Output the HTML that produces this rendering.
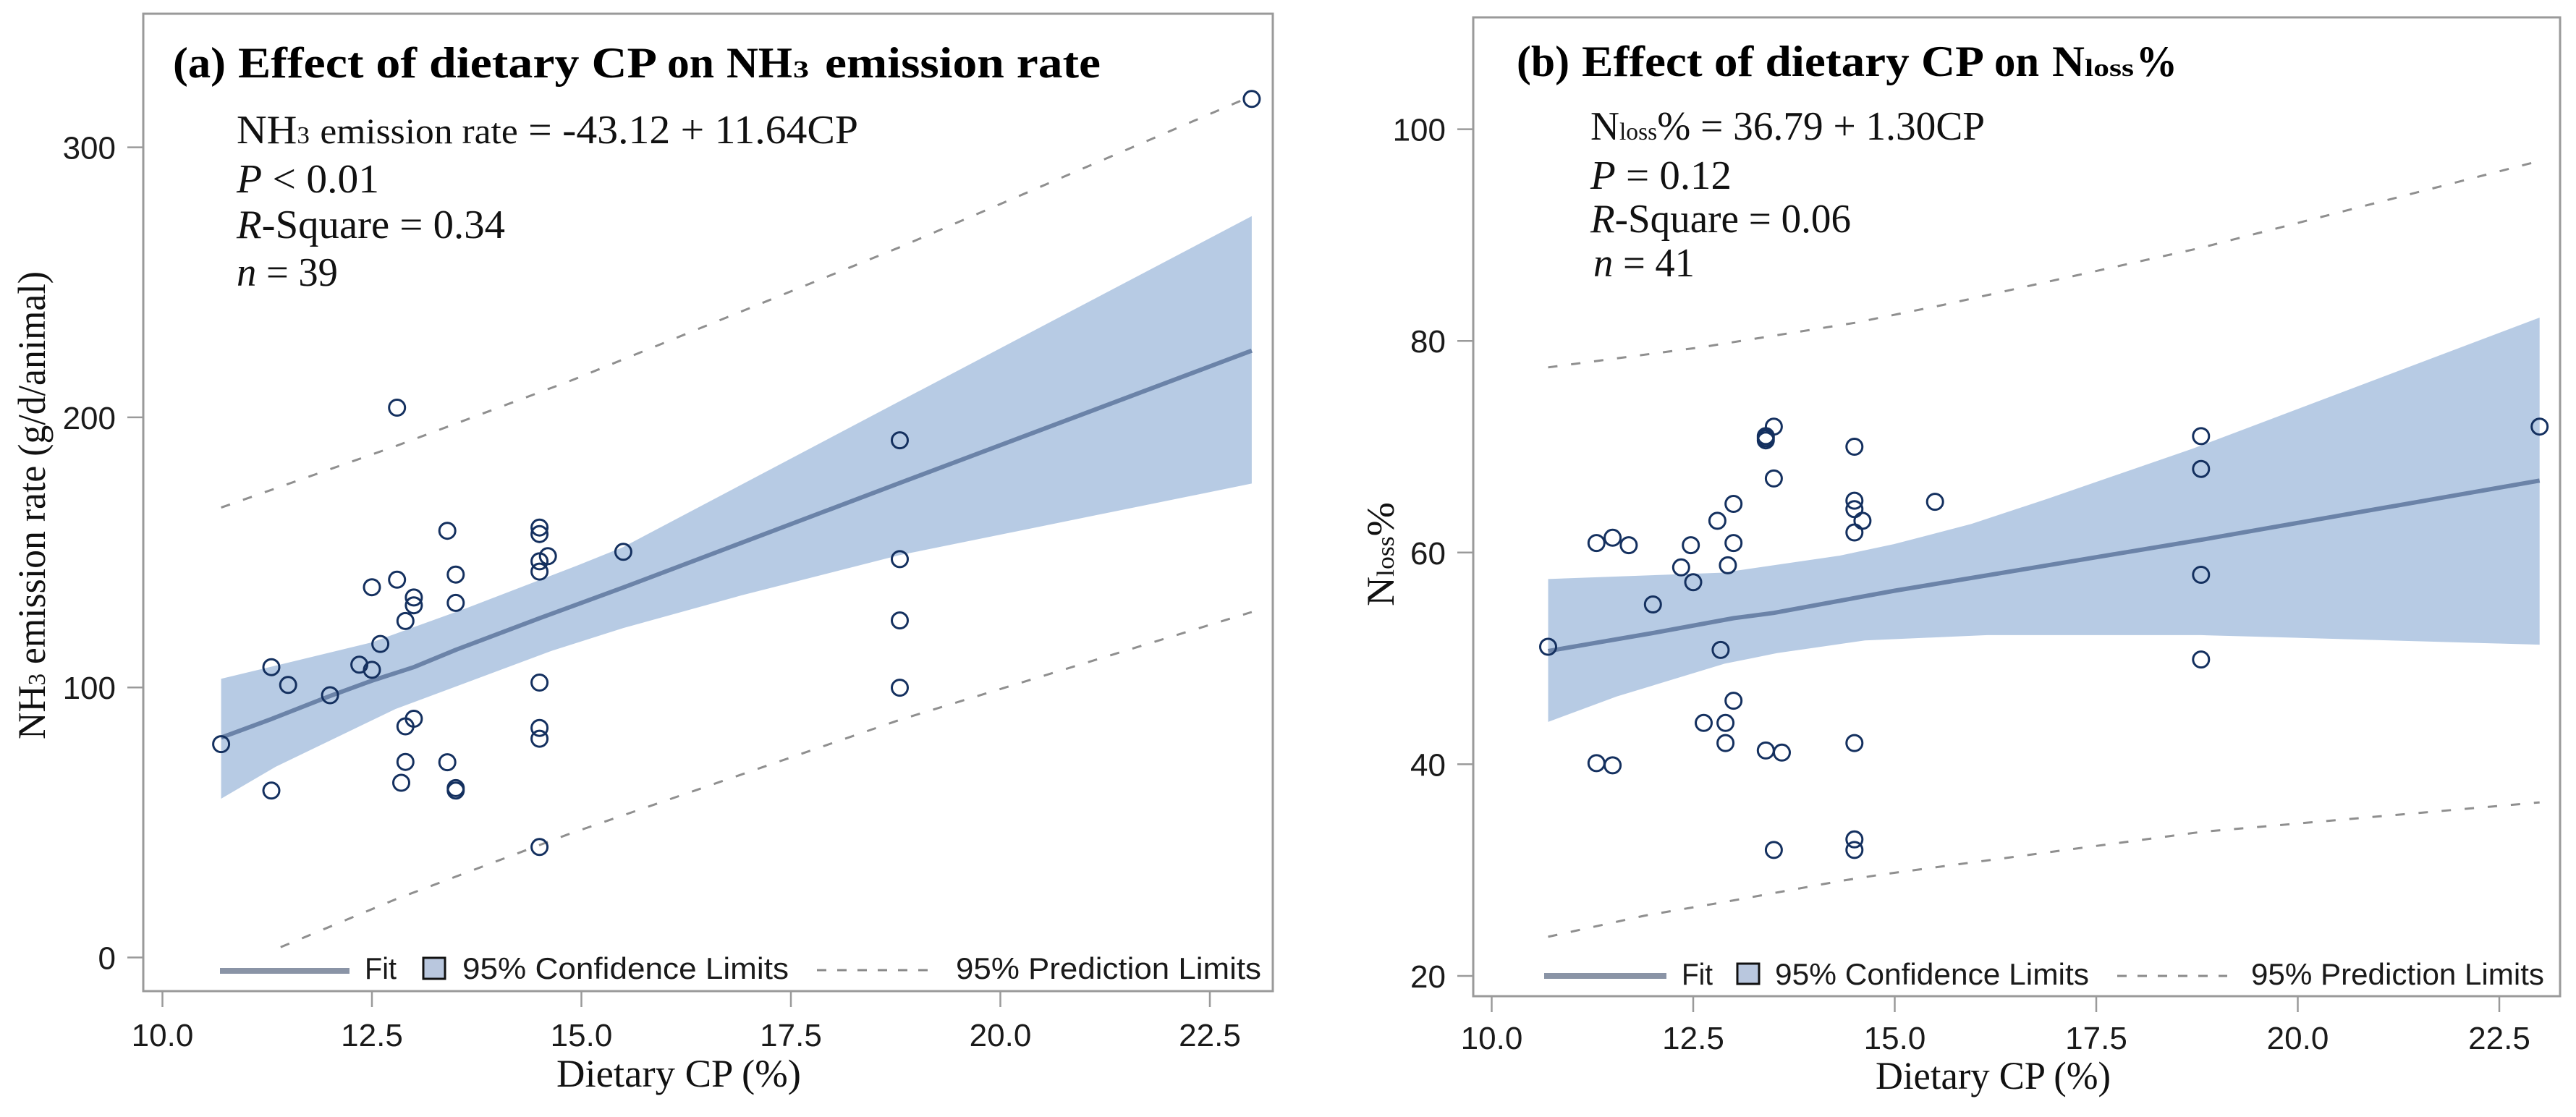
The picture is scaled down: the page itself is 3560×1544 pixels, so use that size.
<!DOCTYPE html>
<html lang="en">
<head>
<meta charset="utf-8">
<title>Effect of dietary CP on NH3 emission rate and Nloss%</title>
<style>
html,body{margin:0;padding:0;background:#fff;width:3560px;height:1544px;overflow:hidden}
svg{display:block}
.serif{font-family:"Liberation Serif",serif;fill:#111}
.sans{font-family:"Liberation Sans",sans-serif;fill:#1a1a1a;font-size:42px}
.title{font-weight:bold;font-size:60px;fill:#000}
.stat{font-size:56px}
.axis-title{font-size:54px}
</style>
</head>
<body>
<svg id="chart" xmlns="http://www.w3.org/2000/svg" width="3560" height="1544" viewBox="0 0 3560 1544">
  <rect x="0" y="0" width="3560" height="1544" fill="#fff"/>

  <g id="panel-a">
    <rect x="198" y="19" width="1561" height="1351" fill="none" stroke="#9a9a9a" stroke-width="3"/>
    <g id="marks-a"></g>
    <g>
      <text class="serif title" x="239" y="107" textLength="73" lengthAdjust="spacingAndGlyphs">(a)</text>
      <text class="serif title" x="329" y="107" textLength="579" lengthAdjust="spacingAndGlyphs">Effect of dietary CP</text>
      <text class="serif title" x="922" y="107" textLength="65" lengthAdjust="spacingAndGlyphs">on</text>
      <text class="serif title" x="1004" y="107" textLength="91" lengthAdjust="spacingAndGlyphs">NH</text>
      <text class="serif title" x="1096" y="107" style="font-size:34px" textLength="22" lengthAdjust="spacingAndGlyphs">3</text>
      <text class="serif title" x="1140" y="107" textLength="381" lengthAdjust="spacingAndGlyphs">emission rate</text>
    </g>
    <g>
      <text class="serif stat" x="327" y="198" textLength="859" lengthAdjust="spacingAndGlyphs">NH<tspan font-size="34">3</tspan> <tspan font-size="50">emission rate</tspan> = -43.12 + 11.64CP</text>
      <text class="serif stat" x="327" y="266" textLength="197" lengthAdjust="spacingAndGlyphs"><tspan font-style="italic">P</tspan> &lt; 0.01</text>
      <text class="serif stat" x="327" y="329" textLength="371" lengthAdjust="spacingAndGlyphs"><tspan font-style="italic">R</tspan>-Square = 0.34</text>
      <text class="serif stat" x="327" y="395" textLength="140" lengthAdjust="spacingAndGlyphs"><tspan font-style="italic">n</tspan> = 39</text>
    </g>
    <text class="serif axis-title" transform="translate(62,1022) rotate(-90)" textLength="647" lengthAdjust="spacingAndGlyphs">NH<tspan font-size="34">3</tspan> emission rate (g/d/animal)</text>
    <text class="serif axis-title" x="769" y="1502" textLength="338" lengthAdjust="spacingAndGlyphs">Dietary CP (%)</text>
    <g>
      <line x1="304" y1="1342" x2="483" y2="1342" stroke="#8a94a6" stroke-width="8"/>
      <text class="sans" x="504" y="1353" textLength="44" lengthAdjust="spacingAndGlyphs">Fit</text>
      <rect x="585" y="1324" width="30" height="29" fill="#b9c7de" stroke="#111" stroke-width="3"/>
      <text class="sans" x="639" y="1353" textLength="451" lengthAdjust="spacingAndGlyphs">95% Confidence Limits</text>
      <line x1="1129" y1="1341" x2="1288" y2="1341" stroke="#8a8a8a" stroke-width="3" stroke-dasharray="13 15"/>
      <text class="sans" x="1321" y="1353" textLength="422" lengthAdjust="spacingAndGlyphs">95% Prediction Limits</text>
    </g>
  </g>

  <g id="panel-b">
    <rect x="2036" y="24" width="1502" height="1353" fill="none" stroke="#9a9a9a" stroke-width="3"/>
    <g id="marks-b"></g>
    <g>
      <text class="serif title" x="2096" y="105" textLength="73" lengthAdjust="spacingAndGlyphs">(b)</text>
      <text class="serif title" x="2186" y="105" textLength="556" lengthAdjust="spacingAndGlyphs">Effect of dietary CP</text>
      <text class="serif title" x="2756" y="105" textLength="62" lengthAdjust="spacingAndGlyphs">on</text>
      <text class="serif title" x="2836" y="105" textLength="45" lengthAdjust="spacingAndGlyphs">N</text>
      <text class="serif title" x="2881" y="105" style="font-size:34px" textLength="68" lengthAdjust="spacingAndGlyphs">loss</text>
      <text class="serif title" x="2952" y="105" textLength="57" lengthAdjust="spacingAndGlyphs">%</text>
    </g>
    <g>
      <text class="serif stat" x="2198" y="193" textLength="545" lengthAdjust="spacingAndGlyphs">N<tspan font-size="34">loss</tspan>% = 36.79 + 1.30CP</text>
      <text class="serif stat" x="2198" y="261" textLength="195" lengthAdjust="spacingAndGlyphs"><tspan font-style="italic">P</tspan> = 0.12</text>
      <text class="serif stat" x="2198" y="321" textLength="360" lengthAdjust="spacingAndGlyphs"><tspan font-style="italic">R</tspan>-Square = 0.06</text>
      <text class="serif stat" x="2202" y="382" textLength="140" lengthAdjust="spacingAndGlyphs"><tspan font-style="italic">n</tspan> = 41</text>
    </g>
    <text class="serif axis-title" transform="translate(1926,838) rotate(-90)" textLength="144" lengthAdjust="spacingAndGlyphs">N<tspan font-size="34">loss</tspan>%</text>
    <text class="serif axis-title" x="2592" y="1505" textLength="325" lengthAdjust="spacingAndGlyphs">Dietary CP (%)</text>
    <g>
      <line x1="2134" y1="1349" x2="2303" y2="1349" stroke="#8a94a6" stroke-width="8"/>
      <text class="sans" x="2324" y="1361" textLength="43" lengthAdjust="spacingAndGlyphs">Fit</text>
      <rect x="2401" y="1332" width="30" height="28" fill="#b9c7de" stroke="#111" stroke-width="3"/>
      <text class="sans" x="2453" y="1361" textLength="434" lengthAdjust="spacingAndGlyphs">95% Confidence Limits</text>
      <line x1="2926" y1="1349" x2="3078" y2="1349" stroke="#8a8a8a" stroke-width="3" stroke-dasharray="13 15"/>
      <text class="sans" x="3111" y="1361" textLength="405" lengthAdjust="spacingAndGlyphs">95% Prediction Limits</text>
    </g>
  </g>
</svg>

<script>
// ---- shared tick labels ----
const xTickValues = [10, 12.5, 15, 17.5, 20, 22.5];
const aYTickValues = [0, 100, 200, 300];
const bYTickValues = [20, 40, 60, 80, 100];

// ---- panel (a): NH3 emission rate ----
const aCp = [12.8,13.4,14.5,14.5,14.6,14.5,14.5,13.5,13.5,12.8,12.5,13,13,12.9,12.6,11.3,11.5,12,12.35,12.5,14.5,13,12.9,14.5,14.5,10.7,12.9,13.4,12.85,11.3,13.5,13.5,14.5,15.5,18.8,18.8,18.8,18.8,23];
const aNh3 = [203.6,158,159.2,156.8,148.6,146.7,142.9,141.8,131.3,139.9,137.1,133.3,130.4,124.6,116.1,107.5,100.9,97.1,108.4,106.5,101.8,88.4,85.6,85,81,79,72.4,72.3,64.7,61.8,62.7,61.8,40.9,150.2,191.5,147.5,124.8,99.9,317.9];
const aFitCp = [10.7,11.3,12,12.5,13,13.5,14.5,15.5,18.8,23];
const aFitValues = [81.4,88.3,96.8,102.5,107.5,113.9,125.6,137,175.7,224.7];
const aConfUpperCp = [10.7,12.49,13.64,14.95,15.5,18.8,23];
const aConfUpper = [103.2,116.6,129.5,145.1,152,206,274.5];
const aConfLowerCp = [10.7,11.35,12.78,14.63,15.5,16.9,18.8,23];
const aConfLower = [58.8,70.6,92,113.4,122,134,149,175.5];
const aPredUpperCp = [10.7,12.78,14.89,18.8,23];
const aPredUpper = [166.6,189.3,213.8,263,319];
const aPredLowerCp = [11.41,12.78,14.84,18.8,23];
const aPredLower = [3.8,21.5,45.6,88,127.9];

// ---- panel (b): Nloss% ----
const bCp = [10.7,11.3,11.5,11.7,12,12.35,12.5,12.47,12.84,12.8,13,13,12.93,13.5,13.4,13.4,13.4,13.5,14.5,14.5,14.5,14.6,14.5,13,12.63,12.9,12.9,11.3,11.5,13.4,13.6,14.5,13.5,14.5,14.5,15.5,18.8,18.8,18.8,18.8,23];
const bNloss = [51.1,60.9,61.4,60.7,55.1,58.6,57.2,60.7,50.8,63,64.6,60.9,58.8,71.9,71,70.8,70.6,67,70,64.9,64.1,63,61.9,46,43.9,43.9,42,40.1,39.9,41.3,41.1,42,31.9,32.9,31.9,64.8,71,67.9,57.9,49.9,71.9];
const bFitCp = [10.7,12,13,13.5,14.5,15,18.8,23];
const bFitValues = [50.7,52.4,53.8,54.3,55.7,56.4,61.2,66.8];
const bConfUpperCp = [10.7,12.86,14.31,14.99,15.95,16.9,18.69,23];
const bConfUpper = [57.5,58.1,59.7,60.8,62.7,65.1,69.8,82.2];
const bConfLowerCp = [10.7,11.55,12.89,13.54,14.63,16.15,18.8,23];
const bConfLower = [44,46.4,49.5,50.5,51.7,52.2,52.2,51.3];
const bPredUpperCp = [10.7,12.6,14.5,15.6,18.8,23];
const bPredUpper = [77.5,79.4,81.7,83.4,88.8,97];
const bPredLowerCp = [10.7,11.9,12.9,14.35,14.85,18.8,23];
const bPredLower = [23.7,25.7,27,29,29.6,33.6,36.4];

const SVG_NS = 'http://www.w3.org/2000/svg';

// axis functions
function axAX(v){ return 514 + (v - 12.5) * 115.8; }
function axAY(v){ return 1323.5 - v * 3.733; }
function axBX(v){ return 2340 + (v - 12.5) * 111.4; }
function axBY(v){ return 1349 - (v - 20) * 14.63; }

function linePath(xs, ys, sx, sy){
  let d = '';
  for (let i = 0; i < xs.length; i++) {
    d += (i ? 'L' : 'M') + sx(xs[i]).toFixed(1) + ' ' + sy(ys[i]).toFixed(1);
  }
  return d;
}

function bandPath(ux, uy, lx, ly, sx, sy){
  let d = linePath(ux, uy, sx, sy);
  for (let i = lx.length - 1; i >= 0; i--) {
    d += 'L' + sx(lx[i]).toFixed(1) + ' ' + sy(ly[i]).toFixed(1);
  }
  return d + 'Z';
}

function addPath(parent, d, fill, stroke, width, dash){
  const el = document.createElementNS(SVG_NS, 'path');
  el.setAttribute('d', d);
  el.setAttribute('fill', fill);
  el.setAttribute('stroke', stroke);
  el.setAttribute('stroke-width', width);
  el.setAttribute('stroke-linejoin', 'round');
  if (dash) el.setAttribute('stroke-dasharray', dash);
  parent.appendChild(el);
  return el;
}

function drawTicks(parent, xVals, yVals, sx, sy, frameLeft, frameBottom, labelOffset){
  for (const v of xVals) {
    const t = document.createElementNS(SVG_NS, 'line');
    
    
    t.setAttribute('x1', sx(v)); t.setAttribute('x2', sx(v));
    t.setAttribute('y1', frameBottom); t.setAttribute('y2', frameBottom + 22);
    t.setAttribute('stroke', '#9a9a9a'); t.setAttribute('stroke-width', 2.5);
    parent.appendChild(t);
    const l = document.createElementNS(SVG_NS, 'text');
    
    
    l.setAttribute('x', sx(v)); l.setAttribute('y', frameBottom + labelOffset);
    l.setAttribute('text-anchor', 'middle');
    l.setAttribute('style', 'font-family:"Liberation Sans",sans-serif;font-size:44px;fill:#1a1a1a');
    l.textContent = v.toFixed(1);
    parent.appendChild(l);
  }
  for (const v of yVals) {
    const t = document.createElementNS(SVG_NS, 'line');
    
    
    t.setAttribute('x1', frameLeft - 22); t.setAttribute('x2', frameLeft);
    t.setAttribute('y1', sy(v)); t.setAttribute('y2', sy(v));
    t.setAttribute('stroke', '#9a9a9a'); t.setAttribute('stroke-width', 2.5);
    parent.appendChild(t);
    const l = document.createElementNS(SVG_NS, 'text');
    
    
    l.setAttribute('x', frameLeft - 38); l.setAttribute('y', sy(v) + 16);
    l.setAttribute('text-anchor', 'end');
    l.setAttribute('style', 'font-family:"Liberation Sans",sans-serif;font-size:44px;fill:#1a1a1a');
    l.textContent = String(v);
    parent.appendChild(l);
  }
}

function drawPoints(parent, xs, ys, sx, sy){
  for (let i = 0; i < xs.length; i++) {
    const c = document.createElementNS(SVG_NS, 'circle');
    
    
    c.setAttribute('cx', sx(xs[i]).toFixed(1));
    c.setAttribute('cy', sy(ys[i]).toFixed(1));
    c.setAttribute('r', 11);
    c.setAttribute('fill', 'none');
    c.setAttribute('stroke', '#14305f');
    c.setAttribute('stroke-width', 3);
    parent.appendChild(c);
  }
}

// panel (a)
const marksA = document.getElementById('marks-a');
const bandA = addPath(marksA, bandPath(aConfUpperCp, aConfUpper, aConfLowerCp, aConfLower, axAX, axAY), '#b7cbe4', 'none', 0);


const fitA = addPath(marksA, linePath(aFitCp, aFitValues, axAX, axAY), 'none', '#6b83a8', 6);


const predUpA = addPath(marksA, linePath(aPredUpperCp, aPredUpper, axAX, axAY), 'none', '#8f8f8f', 3, '13 19');


const predLoA = addPath(marksA, linePath(aPredLowerCp, aPredLower, axAX, axAY), 'none', '#8f8f8f', 3, '13 19');


drawPoints(marksA, aCp, aNh3, axAX, axAY);
drawTicks(marksA, xTickValues, aYTickValues, axAX, axAY, 198, 1370, 76);

// panel (b)
const marksB = document.getElementById('marks-b');
const bandB = addPath(marksB, bandPath(bConfUpperCp, bConfUpper, bConfLowerCp, bConfLower, axBX, axBY), '#b7cbe4', 'none', 0);


const fitB = addPath(marksB, linePath(bFitCp, bFitValues, axBX, axBY), 'none', '#6b83a8', 6);


const predUpB = addPath(marksB, linePath(bPredUpperCp, bPredUpper, axBX, axBY), 'none', '#8f8f8f', 3, '13 19');


const predLoB = addPath(marksB, linePath(bPredLowerCp, bPredLower, axBX, axBY), 'none', '#8f8f8f', 3, '13 19');


drawPoints(marksB, bCp, bNloss, axBX, axBY);
drawTicks(marksB, xTickValues, bYTickValues, axBX, axBY, 2036, 1377, 73);
</script>
</body>
</html>
